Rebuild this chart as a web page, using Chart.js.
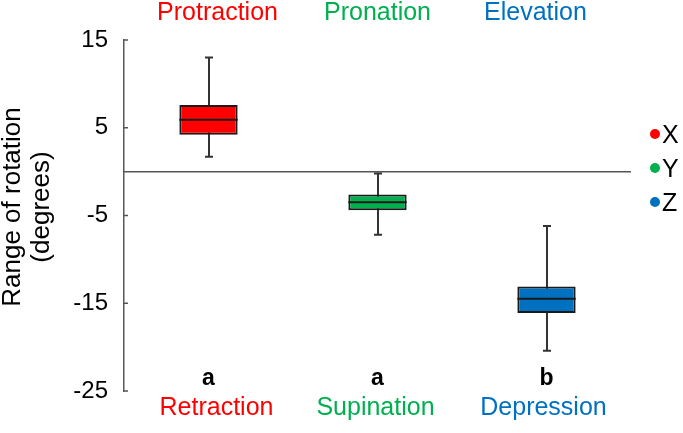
<!DOCTYPE html>
<html>
<head>
<meta charset="utf-8">
<script src="https://cdn.jsdelivr.net/npm/chart.js@4.4.1/dist/chart.umd.min.js"></script>
<style>
  html, body { margin: 0; padding: 0; background: #fff; }
  #wrap { width: 683px; height: 433px; }
</style>
</head>
<body>
<div id="wrap"><canvas id="rotation"></canvas></div>
<script>
// data (degrees)
var axes = ['X', 'Y', 'Z'];
var upperLabels = ['Protraction', 'Pronation', 'Elevation'];
var lowerLabels = ['Retraction', 'Supination', 'Depression'];
var groupLetters = ['a', 'a', 'b'];
var whiskerMin = [1.7, -7.2, -20.4];
var q1 = [4.2, -4.4, -16.1];
var median = [5.9, -3.5, -14.5];
var q3 = [7.6, -2.6, -13.1];
var whiskerMax = [13.0, -0.2, -6.2];
var yTicks = [-25, -15, -5, 5, 15];

var colors = ['#FF0000', '#00B050', '#0070C0'];
var font = '"Liberation Sans", Arial, sans-serif';

// whiskers, medians, zero line and all the loose text
var boxExtras = {
    id: 'boxExtras',
    beforeDatasetsDraw: function(chart) {
        var ctx = chart.ctx;
        var x = chart.scales.x, y = chart.scales.y;
        var area = chart.chartArea;
        ctx.save();
        // zero line
        ctx.strokeStyle = '#555';
        ctx.lineWidth = 1.5;
        ctx.beginPath();
        ctx.moveTo(area.left, y.getPixelForValue(0));
        ctx.lineTo(area.right, y.getPixelForValue(0));
        ctx.stroke();
        // inward tick marks
        yTicks.forEach(function(v) {
            var py = y.getPixelForValue(v);
            ctx.beginPath();
            ctx.moveTo(area.left, py);
            ctx.lineTo(area.left + 4, py);
            ctx.stroke();
        });
        // whiskers
        ctx.strokeStyle = '#333';
        ctx.lineWidth = 2;
        for (var i = 0; i < axes.length; i++) {
            var cx = Math.round(x.getPixelForValue(i));
            var top = y.getPixelForValue(whiskerMax[i]);
            var bot = y.getPixelForValue(whiskerMin[i]);
            ctx.beginPath();
            ctx.moveTo(cx, top);
            ctx.lineTo(cx, bot);
            ctx.moveTo(cx - 4, top);
            ctx.lineTo(cx + 4, top);
            ctx.moveTo(cx - 4, bot);
            ctx.lineTo(cx + 4, bot);
            ctx.stroke();
        }
        ctx.restore();
    },
    afterDatasetsDraw: function(chart) {
        var ctx = chart.ctx;
        var y = chart.scales.y;
        var meta = chart.getDatasetMeta(0);
        ctx.save();
        ctx.strokeStyle = '#1a1a1a';
        ctx.lineWidth = 2;
        meta.data.forEach(function(bar, i) {
            var py = y.getPixelForValue(median[i]);
            ctx.beginPath();
            ctx.moveTo(bar.x - bar.width / 2, py);
            ctx.lineTo(bar.x + bar.width / 2, py);
            ctx.stroke();
        });
        ctx.restore();
    },
    afterDraw: function(chart) {
        var ctx = chart.ctx;
        var x = chart.scales.x;
        var upShift = [9, 0, -11];
        var lowShift = [8, -2, -3];
        ctx.save();
        ctx.textAlign = 'center';
        ctx.textBaseline = 'alphabetic';
        for (var i = 0; i < axes.length; i++) {
            var cx = x.getPixelForValue(i);
            ctx.fillStyle = colors[i];
            ctx.font = '25px ' + font;
            ctx.fillText(upperLabels[i], cx + upShift[i], 20);
            ctx.fillText(lowerLabels[i], cx + lowShift[i], 415);
            ctx.fillStyle = '#000';
            ctx.font = 'bold 23px ' + font;
            ctx.fillText(groupLetters[i], cx, 385);
        }
        // legend
        ctx.textAlign = 'left';
        ctx.textBaseline = 'middle';
        ctx.font = '25px ' + font;
        for (var j = 0; j < axes.length; j++) {
            var ly = 134 + j * 34;
            ctx.fillStyle = colors[j];
            ctx.beginPath();
            ctx.arc(655, ly, 5, 0, Math.PI * 2);
            ctx.fill();
            ctx.fillStyle = '#000';
            ctx.fillText(axes[j], 662, ly + 2);
        }
        // y axis title
        ctx.translate(0, 207);
        ctx.rotate(-Math.PI / 2);
        ctx.textAlign = 'center';
        ctx.textBaseline = 'alphabetic';
        ctx.font = '26px ' + font;
        ctx.fillText('Range of rotation', 0, 20);
        ctx.fillText('(degrees)', 0, 49);
        ctx.restore();
    }
};

var ctx = document.getElementById('rotation').getContext('2d');
var myChart = new Chart(ctx, {
    type: 'bar',
    data: {
        labels: axes,
        datasets: [{
            label: 'Range of rotation',
            data: q1.map(function(v, i) { return [v, q3[i]]; }),
            backgroundColor: colors,
            borderColor: '#1a1a1a',
            borderWidth: 2,
            borderSkipped: false,
            barPercentage: 0.345,
            categoryPercentage: 1
        }]
    },
    options: {
        responsive: true,
        maintainAspectRatio: false,
        animation: false,
        layout: { padding: { top: 40, bottom: 42, left: 0, right: 52 } },
        plugins: {
            legend: { display: false },
            tooltip: { enabled: false }
        },
        scales: {
            x: { display: false },
            y: {
                min: -25,
                max: 15,
                afterBuildTicks: function(scale) {
                    scale.ticks = yTicks.map(function(v) { return { value: v }; });
                },
                afterFit: function(scale) { scale.width = 124; },
                grid: { display: false, drawTicks: false },
                border: { display: true, color: '#595959', width: 1.5 },
                ticks: {
                    padding: 16,
                    color: '#000',
                    font: { family: font, size: 24 }
                }
            }
        }
    },
    plugins: [boxExtras]
});
</script>
</body>
</html>
